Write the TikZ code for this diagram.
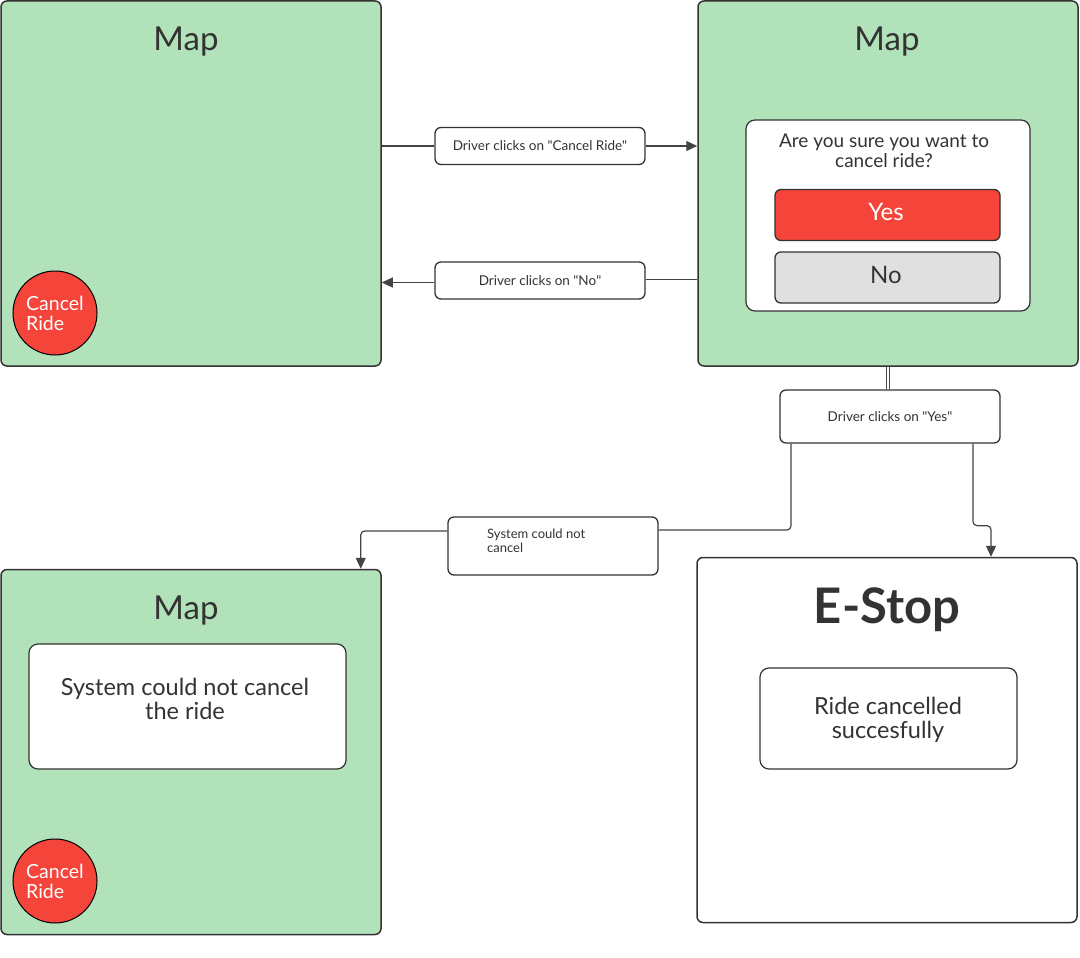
\documentclass[tikz,border=0pt]{standalone}
\usepackage{fontspec}
\setmainfont{Lato}
\usetikzlibrary{arrows.meta}
\definecolor{mapgreen}{HTML}{B2E2B9}
\definecolor{btnred}{HTML}{F5443A}
\definecolor{btngray}{HTML}{E0E0E0}
\definecolor{ink}{HTML}{333333}
\definecolor{wire}{HTML}{444444}
\newcommand{\fs}[1]{\fontsize{#1}{#1}\selectfont}
\newcommand{\qq}{\textquotedbl}
\begin{document}
\begin{tikzpicture}[x=1pt,y=-1pt,
  screen/.style={draw=ink, line width=1.5pt, rounded corners=6pt, minimum width=380pt, minimum height=365pt, inner sep=0pt},
  maptitle/.style={text=ink, font=\fs{33}, inner sep=0pt},
  cancelbtn/.style={circle, fill=btnred, draw=black, line width=1pt, minimum size=84pt, inner sep=0pt, text=white, font=\fontsize{19.5}{20}\selectfont, align=left},
  lbl/.style={draw=ink, fill=white, line width=1.3pt, rounded corners=6pt, inner sep=0pt, text=ink, font=\fs{13.5}},
  panel/.style={draw=ink, fill=white, line width=1.2pt, rounded corners=9pt, inner sep=0pt},
  paneltext/.style={text=ink, align=center, inner sep=0pt, font=\fontsize{23.5}{24}\selectfont},
  btn/.style={draw=ink, line width=1.3pt, rounded corners=6pt, minimum width=225pt, minimum height=51pt, inner sep=0pt},
  btntext/.style={inner sep=0pt, font=\fs{24}},
  wire/.style={draw=wire, line width=1.2pt},
  arr/.style={-{Triangle[length=11pt,width=10pt]}},
]
\useasboundingbox (0,0) rectangle (1080,958);

% screens
\node[screen, fill=mapgreen] (map1) at (191,183.5) {};
\node[screen, fill=mapgreen] (map2) at (888,183.5) {};
\node[screen, fill=mapgreen] (map3) at (191,752) {};
\node[screen, fill=white] (estop) at (887,740) {};

% titles
\node[maptitle] (t1) at (186,42) {Map};
\node[maptitle] (t2) at (887,42) {Map};
\node[maptitle] (t3) at (186,611) {Map};
\node[text=ink, font=\bfseries\fs{49}, inner sep=0pt] (t4) at (887,610) {E-Stop};

% cancel buttons
\node[cancelbtn] (c1) at (55,313) {Cancel\\Ride};
\node[cancelbtn] (c2) at (55,881) {Cancel\\Ride};

% dialog
\node[panel, minimum width=284pt, minimum height=191pt] (dlg) at (888,215.5) {};
\node[text=ink, align=center, font=\fontsize{19}{20}\selectfont, inner sep=0pt] (q) at (884,150.5) {Are you sure you want to\\cancel ride?};
\node[btn, fill=btnred] (yes) at (887.5,215) {};
\node[btntext, text=white] (yest) at (886,212) {Yes};
\node[btn, fill=btngray] (no) at (887.5,277.5) {};
\node[btntext, text=ink] (not) at (886,275) {No};

% message panels
\node[panel, minimum width=317pt, minimum height=125pt] (msg1) at (187.5,706.5) {};
\node[paneltext] (msg1t) at (185,699) {System could not cancel\\the ride};
\node[panel, minimum width=257pt, minimum height=101pt] (msg2) at (888.5,718.5) {};
\node[paneltext] (msg2t) at (888,720) {Ride cancelled\\ succesfully};

% connector labels
\node[lbl, minimum width=210pt, minimum height=37pt] (l1) at (540,146) {Driver clicks on \qq Cancel Ride\qq};
\node[lbl, minimum width=210pt, minimum height=37pt] (l2) at (540,280.5) {Driver clicks on \qq No\qq};
\node[lbl, minimum width=220pt, minimum height=53pt] (l3) at (890,416.5) {Driver clicks on \qq Yes\qq};
\node[lbl, minimum width=210pt, minimum height=58pt] (l4) at (553,546) {};
\node[text=ink, font=\fontsize{13}{14}\selectfont, align=left, inner sep=0pt, anchor=north west] (l4t) at (487,529) {System could not\\cancel};

% connectors
\draw[wire] (map1.east |- l1) -- (l1.west);
\draw[wire, arr] (l1.east) -- (l1.east -| map2.west);
\draw[wire] ([yshift=1pt]l2.east) -- ([yshift=1pt]l2.east -| map2.west);
\draw[wire, arr] ([yshift=-2pt]l2.west) -- ([yshift=-2pt]l2.west -| map1.east);
\draw[draw=wire, line width=0.8pt, double=white, double distance=2.5pt] (map2.south) -- (map2.south |- l3.north);
\draw[wire, rounded corners=4pt] ([xshift=-99pt]l3.south) |- ([yshift=16pt]l4.east);
\draw[wire, arr, rounded corners=4pt] ([yshift=15pt]l4.west) -| ([xshift=-21pt]map3.north east);
\draw[wire, arr, rounded corners=4pt] ([xshift=83pt]l3.south) -- ++(0,82) -| ([xshift=104pt]estop.north);
\end{tikzpicture}
\end{document}
